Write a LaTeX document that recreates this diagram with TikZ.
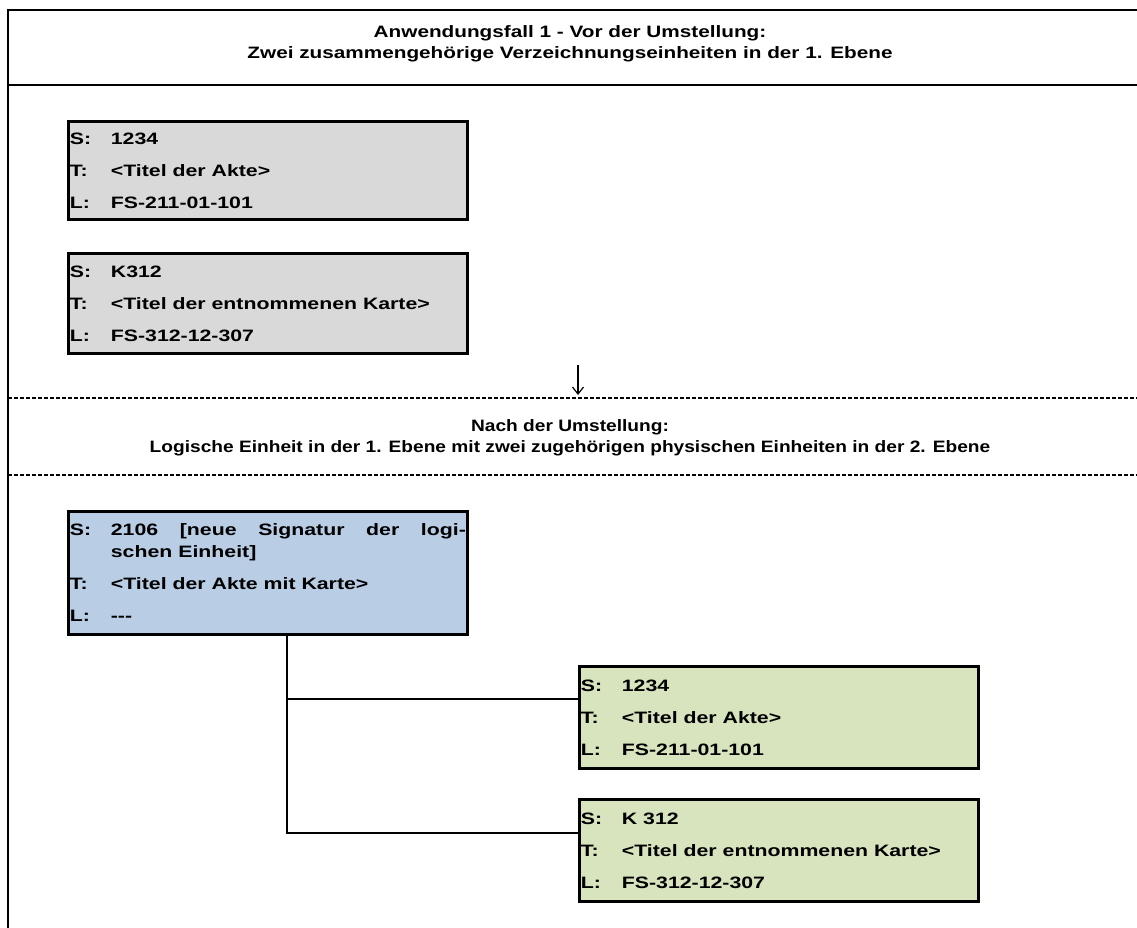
\documentclass[tikz,border=0pt]{standalone}
\usepackage{fontspec}
\setmainfont[FakeStretch=1.29]{Liberation Sans Bold}
\newfontfamily\titlefont[FakeStretch=1.257]{Liberation Sans Bold}
\newfontfamily\afterfont[FakeStretch=1.16]{Liberation Sans Bold}
\usetikzlibrary{arrows.meta}

\definecolor{unitgray}{HTML}{D9D9D9}
\definecolor{unitblue}{HTML}{B9CDE5}
\definecolor{unitgreen}{HTML}{D7E4BD}

% field lines: label, then value with hanging indent
\newcommand{\field}[2]{\noindent\hangindent=41pt\hangafter=1\makebox[41pt][l]{#1}#2}
\newcommand{\nextfield}[2]{\par\vskip10pt\field{#1}{#2}}

\begin{document}
\begin{tikzpicture}[x=1pt,y=-1pt,
  frame line/.style={line width=2.8pt},
  sep line/.style={line width=1.2pt,dash pattern=on 4pt off 2pt},
  head text/.style={align=center,inner sep=0pt},
  unit box/.style={draw,line width=2.8pt,anchor=north west,text width=396pt,
    inner xsep=1.5pt,inner ysep=0pt,align=justify,
    font=\fontsize{16.5}{22}\selectfont},
  link/.style={line width=2.8pt},
  down arrow/.style={line width=1.2pt,-{Straight Barb[length=7pt,width=11pt]}}]

  \useasboundingbox (0,0) rectangle (1137,928);

  \draw[frame line] (1137,10) -- (8,10) -- (8,928);
  \draw[frame line] (8,85) -- (1137,85);
  \draw[sep line] (8,398) -- (1137,398);
  \draw[sep line] (8,475) -- (1137,475);

  \node[head text,font=\titlefont\fontsize{16.5}{21}\selectfont] (title) at (570,44)
    {Anwendungsfall 1 - Vor der Umstellung:\\
     Zwei zusammengehörige Verzeichnungseinheiten in der 1. Ebene};
  \node[head text,font=\afterfont\fontsize{16.5}{21}\selectfont] (after) at (570,438)
    {Nach der Umstellung:\\
     Logische Einheit in der 1. Ebene mit zwei zugehörigen physischen Einheiten in der 2. Ebene};

  % before
  \node[unit box,fill=unitgray,minimum height=98pt] (file1) at (67,120)
    {\field{S:}{1234}\nextfield{T:}{<Titel der Akte>}\nextfield{L:}{FS-211-01-101}};
  \node[unit box,fill=unitgray,minimum height=100pt] (map1) at (67,252)
    {\field{S:}{K312}\nextfield{T:}{<Titel der entnommenen Karte>}\nextfield{L:}{FS-312-12-307}};

  \coordinate (arrow top) at (578,365);
  \coordinate (arrow end) at (578,395);
  \draw[down arrow] (arrow top) -- (arrow end);

  % after
  \node[unit box,fill=unitblue,minimum height=123pt] (logic) at (67,510)
    {\field{S:}{2106 [neue Signatur der logi-\linebreak schen Einheit]}%
     \nextfield{T:}{<Titel der Akte mit Karte>}\nextfield{L:}{-{}-{}-}};
  \node[unit box,fill=unitgreen,minimum height=102pt] (file2) at (578,665)
    {\field{S:}{1234}\nextfield{T:}{<Titel der Akte>}\nextfield{L:}{FS-211-01-101}};
  \node[unit box,fill=unitgreen,minimum height=102pt] (map2) at (578,798)
    {\field{S:}{K 312}\nextfield{T:}{<Titel der entnommenen Karte>}\nextfield{L:}{FS-312-12-307}};

  \coordinate (branch) at (287,700);
  \coordinate (dock1) at ([yshift=-34pt]file2.north west);
  \coordinate (dock2) at ([yshift=-35pt]map2.north west);
  \draw[link] (logic.south -| branch) -- (branch |- dock2) -- (dock2);
  \draw[link] (branch |- dock1) -- (dock1);

\end{tikzpicture}
\end{document}
